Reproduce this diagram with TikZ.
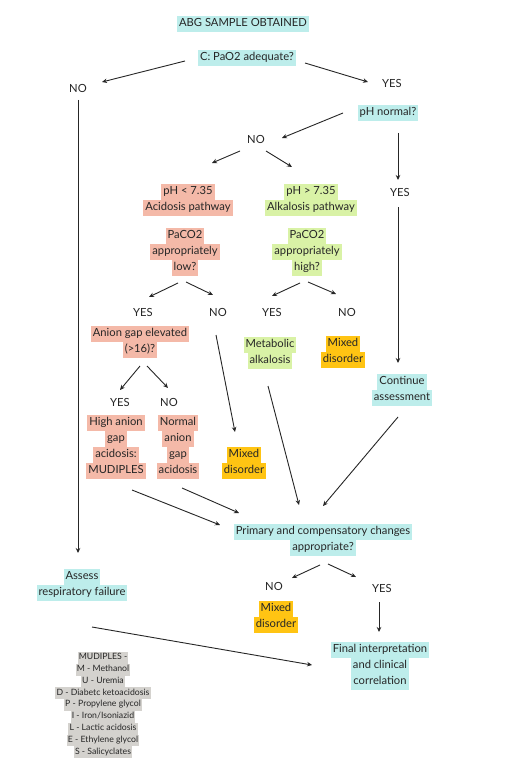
\documentclass[tikz,border=0pt]{standalone}
\usepackage{fontspec}
\setmainfont{Lato}
\usetikzlibrary{arrows.meta}
\definecolor{cy}{HTML}{BDEDEB}
\definecolor{sa}{HTML}{F4B9A8}
\definecolor{gr}{HTML}{D9F2A6}
\definecolor{ye}{HTML}{FFC413}
\definecolor{gy}{HTML}{D4D2CE}
\definecolor{ink}{HTML}{262626}
\newcommand\hb[2]{\colorbox{#1}{\strut #2}}
\newcommand\stk[1]{{\renewcommand\arraystretch{0}\begin{tabular}{@{}c@{}}#1\end{tabular}}}
\begin{document}
\begin{tikzpicture}[x=1pt,y=-1pt,
  box/.style={inner sep=0pt,text=ink,font=\fontsize{11.2}{12}\selectfont\setlength\fboxsep{2pt}},
  lab/.style={inner sep=1pt,text=ink,font=\fontsize{11.2}{12}\selectfont},
  leg/.style={inner sep=0pt,text=ink,font=\fontsize{8.7}{9.4}\selectfont\setlength\fboxsep{1.2pt}},
  arr/.style={draw=ink,line width=0.9pt,-{Stealth[length=5pt,width=4.5pt]}}]
\useasboundingbox (0,0) rectangle (511,762);
\fill[white] (0,0) rectangle (511,762);
% nodes
\node[box] (abg) at (243,24) {\hb{cy}{ABG SAMPLE OBTAINED}};
\node[box] (c) at (247,58) {\hb{cy}{C: PaO2 adequate?}};
\node[lab] (no1) at (78,88) {NO};
\node[lab] (yes1) at (392,83) {YES};
\node[box] (ph) at (388,113) {\hb{cy}{pH normal?}};
\node[lab] (no2) at (256,139) {NO};
\node[lab] (yes2) at (400,192) {YES};
\node[box] (acid) at (188,200) {\stk{\hb{sa}{pH < 7.35}\\\hb{sa}{Acidosis pathway}}};
\node[box] (alk) at (311,200) {\stk{\hb{gr}{pH > 7.35}\\\hb{gr}{Alkalosis pathway}}};
\node[box] (plow) at (185,252) {\stk{\hb{sa}{PaCO2}\\\hb{sa}{appropriately}\\\hb{sa}{low?}}};
\node[box] (phigh) at (307,252) {\stk{\hb{gr}{PaCO2}\\\hb{gr}{appropriately}\\\hb{gr}{high?}}};
\node[lab] (yes3) at (143,312) {YES};
\node[lab] (no3) at (218,312) {NO};
\node[lab] (yes4) at (272,312) {YES};
\node[lab] (no4) at (347,312) {NO};
\node[box] (anion) at (140,342) {\stk{\hb{sa}{Anion gap elevated}\\\hb{sa}{(>16)?}}};
\node[box] (malk) at (270,353) {\stk{\hb{gr}{Metabolic}\\\hb{gr}{alkalosis}}};
\node[box] (mix1) at (343,352) {\stk{\hb{ye}{Mixed}\\\hb{ye}{disorder}}};
\node[box] (cont) at (402,390) {\stk{\hb{cy}{Continue}\\\hb{cy}{assessment}}};
\node[lab] (yes5) at (120,402) {YES};
\node[lab] (no5) at (169,402) {NO};
\node[box] (hag) at (116,447) {\stk{\hb{sa}{High anion}\\\hb{sa}{gap}\\\hb{sa}{acidosis:}\\\hb{sa}{MUDIPLES}}};
\node[box] (nag) at (178,447) {\stk{\hb{sa}{Normal}\\\hb{sa}{anion}\\\hb{sa}{gap}\\\hb{sa}{acidosis}}};
\node[box] (mix2) at (244,463) {\stk{\hb{ye}{Mixed}\\\hb{ye}{disorder}}};
\node[box] (prim) at (323,540) {\stk{\hb{cy}{Primary and compensatory changes}\\\hb{cy}{appropriate?}}};
\node[lab] (no6) at (274,586) {NO};
\node[lab] (yes6) at (382,588) {YES};
\node[box] (mix3) at (276,617) {\stk{\hb{ye}{Mixed}\\\hb{ye}{disorder}}};
\node[box] (final) at (380,666) {\stk{\hb{cy}{Final interpretation}\\\hb{cy}{and clinical}\\\hb{cy}{correlation}}};
\node[box] (assess) at (82,585) {\stk{\hb{cy}{Assess}\\\hb{cy}{respiratory failure}}};
\node[leg] (legend) at (103,705) {\stk{\hb{gy}{MUDIPLES -}\\\hb{gy}{M - Methanol}\\\hb{gy}{U - Uremia}\\\hb{gy}{D - Diabetc ketoacidosis}\\\hb{gy}{P - Propylene glycol}\\\hb{gy}{I - Iron/Isoniazid}\\\hb{gy}{L - Lactic acidosis}\\\hb{gy}{E - Ethylene glycol}\\\hb{gy}{S - Salicyclates}}};
% connectors
\draw[arr] ([shift={(-62,3)}]c.center) -- ([shift={(24,-6)}]no1.center);
\draw[arr] ([shift={(58,5)}]c.center) -- ([shift={(-24,-1)}]yes1.center);
\draw[arr] ([shift={(-45,0)}]ph.center) -- ([shift={(26,-1)}]no2.center);
\draw[arr] ([shift={(-16,12)}]no2.center) -- ([shift={(24,-37)}]acid.center);
\draw[arr] ([shift={(10,12)}]no2.center) -- ([shift={(-19,-33)}]alk.center);
\draw[arr] ([shift={(10,20)}]ph.center) -- ([shift={(-2,-12)}]yes2.center);
\draw[arr] ([shift={(-2,15)}]yes2.center) -- ([shift={(-4,-27)}]cont.center);
\draw[arr] ([shift={(-7,31)}]plow.center) -- ([shift={(6,-15)}]yes3.center);
\draw[arr] ([shift={(1,30)}]plow.center) -- ([shift={(-5,-17)}]no3.center);
\draw[arr] ([shift={(-7,31)}]phigh.center) -- ([shift={(0,-16)}]yes4.center);
\draw[arr] ([shift={(1,30)}]phigh.center) -- ([shift={(-11,-18)}]no4.center);
\draw[arr] ([shift={(0,24)}]anion.center) -- ([shift={(0,-12)}]yes5.center);
\draw[arr] ([shift={(7,24)}]anion.center) -- ([shift={(-1,-14)}]no5.center);
\draw[arr] ([shift={(-2,23)}]no3.center) -- ([shift={(-9,-31)}]mix2.center);
\draw[arr] ([shift={(-2,33)}]malk.center) -- ([shift={(-24,-35)}]prim.center);
\draw[arr] ([shift={(-4,27)}]cont.center) -- ([shift={(0,-34)}]prim.center);
\draw[arr] ([shift={(16,43)}]hag.center) -- ([shift={(-103,-15)}]prim.center);
\draw[arr] ([shift={(4,41)}]nag.center) -- ([shift={(-84,-27)}]prim.center);
\draw[arr] ([shift={(-3,25)}]prim.center) -- ([shift={(18,-8)}]no6.center);
\draw[arr] ([shift={(5,24)}]prim.center) -- ([shift={(-26,-11)}]yes6.center);
\draw[arr] ([shift={(-3,14)}]yes6.center) -- ([shift={(-1,-34)}]final.center);
\draw[arr] ([shift={(0,12)}]no1.center) -- ([shift={(-4,-32)}]assess.center);
\draw[arr] ([shift={(10,42)}]assess.center) -- ([shift={(-68,-1)}]final.center);
\end{tikzpicture}
\end{document}
